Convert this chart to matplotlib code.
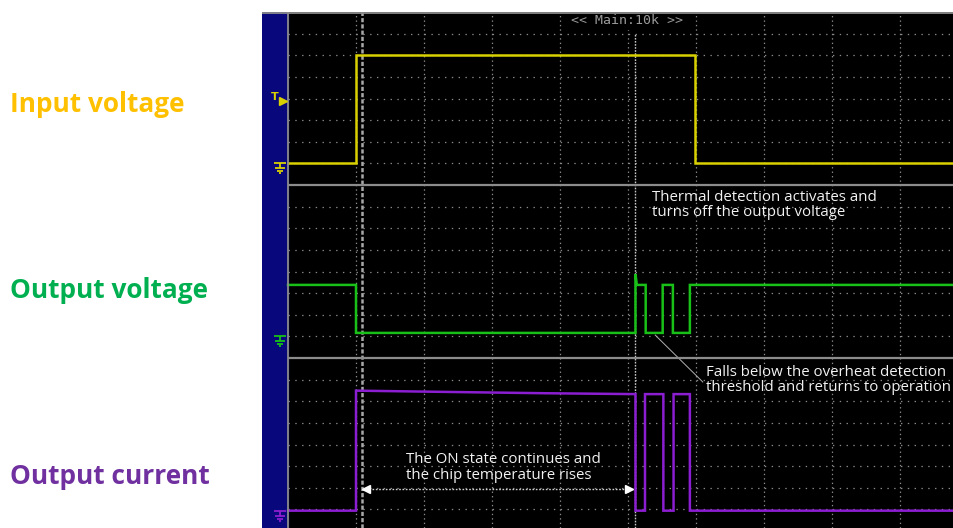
import matplotlib
matplotlib.use("Agg")
import matplotlib.pyplot as plt
from matplotlib.path import Path
import numpy as np

plt.rcParams['lines.scale_dashes'] = False

# ---------------- data (time and levels in scope divisions) ----------------
# CH1: Input voltage (levels relative to its own 8-div panel)
t_in = [0.0, 1.0, 1.0, 5.99, 5.99, 9.8]
v_in = [1.0, 1.0, 6.03, 6.03, 1.0, 1.0]

# CH2: Output voltage
t_vout = [0.0, 1.0, 1.0, 5.11, 5.11, 5.13, 5.26, 5.26, 5.51, 5.51, 5.66, 5.66, 5.91, 5.91, 9.8]
v_vout = [3.38, 3.38, 1.16, 1.16, 3.88, 3.38, 3.38, 1.16, 1.16, 3.38, 3.38, 1.16, 1.16, 3.38, 3.38]

# CH3: Output current
t_iout = [0.0, 1.0, 1.0, 2.6, 3.8, 5.11, 5.11, 5.25, 5.25, 5.52, 5.52, 5.67, 5.67, 5.91, 5.91, 9.8]
i_iout = [0.94, 0.94, 6.49, 6.42, 6.37, 6.33, 0.94, 0.94, 6.33, 6.33, 0.94, 0.94, 6.33, 6.33, 0.94, 0.94]

channel_names = ["Input voltage", "Output voltage", "Output current"]
channel_colors = ["#ffc000", "#00b050", "#7030a0"]
trace_colors = ["#d8d000", "#18c018", "#8a1ed0"]
panel_offsets = [16, 8, 0]
ground_levels = [1.0, 1.0, 0.94]
trigger_level = 4.0  # CH1 trigger, div in panel

t_cursor = 5.103
t_trigger_pos = 1.088
arrow_span = (1.09, 5.07)

title_text = "<< Main:10k >>"
note_thermal = "Thermal detection activates and\nturns off the output voltage"
note_return = "Falls below the overheat detection\nthreshold and returns to operation"
note_on = "The ON state continues and\nthe chip temperature rises"

# ---------------- figure ----------------
W, H = 954, 528
fig = plt.figure(figsize=(W / 100, H / 100), dpi=100)
fig.patch.set_facecolor("white")

px_per_div_x = 68.0
px_per_div_y = 21.625
x_left = -26 / px_per_div_x
x_right = (954 - 288) / px_per_div_x
y_top = 24.0
y_bot = 24.0 - (528 - 12) / px_per_div_y

ax = fig.add_axes([262 / W, 0, (W - 262) / W, (H - 12) / H])
ax.set_xlim(x_left, x_right)
ax.set_ylim(y_bot, y_top)
ax.set_facecolor("black")
ax.set_xticks([])
ax.set_yticks([])
for s in ax.spines.values():
    s.set_visible(False)

# blue side strip
ax.axvspan(x_left, 0, color="#08087c", zorder=1)

grid_col = "#8a8a8a"
# vertical dotted grid
for xv in range(1, 10):
    ax.vlines(xv, y_bot, y_top, colors=grid_col, linewidth=0.9,
              linestyles=(0, (1.0, 2.2)), zorder=2)
# horizontal dotted grid
for off in panel_offsets:
    for k in range(1, 8):
        ax.hlines(off + k, 0, x_right, colors=grid_col, linewidth=0.9,
                  linestyles=(0, (1.0, 3.9)), zorder=2)

# title (black box hides grid behind it)
ax.text(4.98, 23.6, title_text, color="#9a9a9a", fontsize=9.5,
        family="DejaVu Sans Mono", ha="center", va="center", zorder=4,
        bbox=dict(boxstyle="square,pad=0.2", fc="black", ec="none"))

# panel separators and borders
for yb in [8, 16]:
    ax.hlines(yb, 0, x_right, colors="#8c8c8c", linewidth=1.6, zorder=8)
ax.hlines(y_top - 0.04, x_left, x_right, colors="#8c8c8c", linewidth=1.3, zorder=8)
ax.vlines(0, y_bot, y_top, colors="#8c8c8c", linewidth=1.3, zorder=8)

# trigger position marker and cursor
ax.vlines(t_trigger_pos, y_bot, y_top, colors="#a8a8a8", linewidth=1.8,
          linestyles=(0, (3, 1.5)), zorder=3)
ax.vlines(t_cursor, y_bot, 23.05, colors="#c8c8c8", linewidth=1.0,
          linestyles=(0, (1.2, 1.0)), zorder=3)

# traces
traces = [(t_in, v_in), (t_vout, v_vout), (t_iout, i_iout)]
for (tt, vv), off, col in zip(traces, panel_offsets, trace_colors):
    ax.plot(tt, np.asarray(vv) + off, color=col, linewidth=1.8, zorder=5,
            solid_joinstyle="miter")

# ground markers
gverts = [(-0.6, 0), (0.6, 0), (0, 0), (0, -0.5), (-0.5, -0.5), (0.5, -0.5),
          (-0.3, -0.75), (0.3, -0.75), (-0.12, -1.0), (0.12, -1.0)]
gcodes = [Path.MOVETO, Path.LINETO, Path.MOVETO, Path.LINETO, Path.MOVETO, Path.LINETO,
          Path.MOVETO, Path.LINETO, Path.MOVETO, Path.LINETO]
gpath = Path(gverts, gcodes)
for off, lvl, col in zip(panel_offsets, ground_levels, trace_colors):
    ax.plot([-0.12], [off + lvl], marker=gpath, markersize=15, color=col,
            markeredgewidth=1.3, fillstyle="none", linestyle="none", zorder=9)

# trigger level marker
ax.text(-0.20, panel_offsets[0] + trigger_level + 0.05, "T", color=trace_colors[0],
        fontsize=8, fontweight="bold", ha="center", va="center", zorder=9)
ax.plot([-0.07], [panel_offsets[0] + trigger_level - 0.1], marker=">", markersize=6,
        color=trace_colors[0], linestyle="none", zorder=9)

# annotations
txt_kw = dict(color="#f2f2f2", fontsize=10.8, family="Open Sans", linespacing=1.07, zorder=7)
ax.text(5.35, 15.07, note_thermal, ha="left", va="center", **txt_kw)
ax.text(6.15, 6.98, note_return, ha="left", va="center", **txt_kw)
ax.text(1.735, 2.94, note_on, ha="left", va="center", **txt_kw)

# leader line
ax.plot([5.40, 6.10], [9.06, 6.89], color="#b0b0b0", linewidth=0.7, zorder=6)

# double arrow
arrow_y = 1.94
ax.hlines(arrow_y, arrow_span[0], arrow_span[1], colors="#d0d0d0", linewidth=1.0,
          linestyles=(0, (1.2, 1.2)), zorder=6)
ax.plot([arrow_span[0] + 0.05], [arrow_y], marker="<", markersize=6, color="white",
        linestyle="none", zorder=7)
ax.plot([arrow_span[1] - 0.05], [arrow_y], marker=">", markersize=6, color="white",
        linestyle="none", zorder=7)

# left channel labels
label_y_px = [104, 291, 476]
for name, col, ypx in zip(channel_names, channel_colors, label_y_px):
    fig.text(10 / W, 1 - ypx / H, name, color=col, fontsize=18.9, fontweight="bold",
             family="Open Sans", ha="left", va="center")

fig.savefig("out.png", dpi=100, facecolor="white")
